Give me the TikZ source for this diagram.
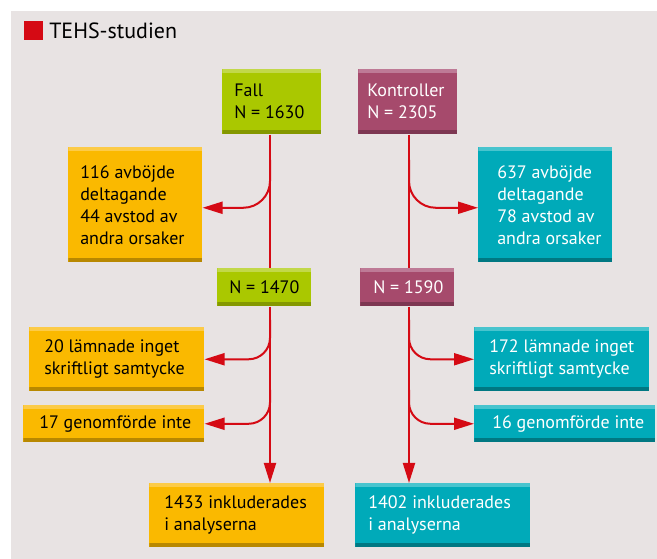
\documentclass[tikz,border=0pt]{standalone}
\usepackage{fontspec}
\setmainfont{PT Sans}
\usetikzlibrary{arrows.meta}

% couleurs
\definecolor{fond}{HTML}{E8E3E3}
\definecolor{rouge}{HTML}{D50A14}
\definecolor{vert}{HTML}{AAC800}
\definecolor{vertL}{HTML}{C2D84A}
\definecolor{vertD}{HTML}{849800}
\definecolor{mauve}{HTML}{A64A6C}
\definecolor{mauveL}{HTML}{BE7A96}
\definecolor{mauveD}{HTML}{7D3752}
\definecolor{orange}{HTML}{FAB900}
\definecolor{orangeL}{HTML}{FCCB48}
\definecolor{orangeD}{HTML}{B88800}
\definecolor{bleu}{HTML}{00AAB9}
\definecolor{bleuL}{HTML}{48C4CE}
\definecolor{bleuD}{HTML}{007882}

\newcommand\pxu{*0.75pt}

\tikzset{
  boite/.style n args={3}{rectangle, inner sep=0pt, anchor=north west, fill=#1,
    path picture={
      \fill[#2] (path picture bounding box.north west) rectangle ([yshift=-4\pxu]path picture bounding box.north east);
      \fill[#3] (path picture bounding box.south west) rectangle ([yshift=4\pxu]path picture bounding box.south east);
    }},
  vbox/.style={boite={vert}{vertL}{vertD}},
  mbox/.style={boite={mauve}{mauveL}{mauveD}},
  obox/.style={boite={orange}{orangeL}{orangeD}},
  bbox/.style={boite={bleu}{bleuL}{bleuD}},
  texte/.style={anchor=west, inner sep=0pt, align=left, font=\fontsize{13.5}{16.5}\selectfont},
  ligne/.style={draw=rouge, line width=1.5pt},
  fleche/.style={ligne, -{Triangle[length=15pt,width=9pt]}},
}

\begin{document}
\begin{tikzpicture}[x=0.75pt,y=-0.75pt]
		\useasboundingbox (0,0) rectangle (657,559);
		\fill[fond] (11,11) rectangle (657,559);

		% titre
		\fill[rouge] (24,21) rectangle (43,40);
		\node (titre) at (49,39) [anchor=base west, inner sep=0pt, font=\fontsize{16.5}{20}\selectfont] {TEHS-studien};

		% boites
		\node (fall) at (222,69) [vbox, minimum width=99\pxu, minimum height=65\pxu] {};
		\node (kontr) at (358,69) [mbox, minimum width=99\pxu, minimum height=65\pxu] {};
		\node (avb1) at (68,147) [obox, minimum width=134\pxu, minimum height=115\pxu] {};
		\node (avb2) at (478,147) [bbox, minimum width=134\pxu, minimum height=115\pxu] {};
		\node (n1470) at (217,268) [vbox, minimum width=94\pxu, minimum height=38\pxu] {};
		\node (n1590) at (360,268) [mbox, minimum width=94\pxu, minimum height=38\pxu] {};
		\node (lam1) at (29,327) [obox, minimum width=175\pxu, minimum height=64\pxu] {};
		\node (lam2) at (474,327) [bbox, minimum width=175\pxu, minimum height=64\pxu] {};
		\node (gen1) at (23,405) [obox, minimum width=181\pxu, minimum height=37\pxu] {};
		\node (gen2) at (474,405) [bbox, minimum width=181\pxu, minimum height=37\pxu] {};
		\node (inc1) at (149,483) [obox, minimum width=175\pxu, minimum height=64\pxu] {};
		\node (inc2) at (355,483) [bbox, minimum width=175\pxu, minimum height=64\pxu] {};

		% textes
		\node (fallt) at ([xshift=12\pxu]fall.west) [texte] {Fall\\N = 1630};
		\node (kontrt) at ([xshift=9\pxu]kontr.west) [texte, text=white] {Kontroller\\N = 2305};
		\node (avb1t) at ([xshift=12\pxu]avb1.west) [texte] {116 avböjde\\deltagande\\44 avstod av\\andra orsaker};
		\node (avb2t) at ([xshift=19\pxu]avb2.west) [texte, text=white] {637 avböjde\\deltagande\\78 avstod av\\andra orsaker};
		\node (n1470t) at ([xshift=12\pxu]n1470.west) [texte] {N = 1470};
		\node (n1590t) at ([xshift=13\pxu]n1590.west) [texte, text=white] {N = 1590};
		\node (lam1t) at ([xshift=15\pxu]lam1.west) [texte] {20 lämnade inget\\skriftligt samtycke};
		\node (lam2t) at ([xshift=15\pxu]lam2.west) [texte, text=white] {172 lämnade inget\\skriftligt samtycke};
		\node (gen1t) at ([xshift=16\pxu]gen1.west) [texte] {17 genomförde inte};
		\node (gen2t) at ([xshift=18\pxu]gen2.west) [texte, text=white] {16 genomförde inte};
		\node (inc1t) at ([xshift=15\pxu]inc1.west) [texte] {1433 inkluderades\\i analyserna};
		\node (inc2t) at ([xshift=13\pxu]inc2.west) [texte, text=white] {1402 inkluderades\\i analyserna};

		% fleches
		\coordinate (lx) at (270,0);
		\coordinate (rx) at (409,0);
		\path[ligne]
		(lx |- fall.south) -- (lx |- n1470.north)
		(rx |- kontr.south) -- (rx |- n1590.north);
		\draw[fleche, rounded corners=20pt] (lx |- 0,160) |- ([yshift=-3\pxu]avb1.east);
		\draw[fleche, rounded corners=20pt] (rx |- 0,160) |- ([yshift=-3\pxu]avb2.west);
		\draw[fleche] (lx |- n1470.south) -- (lx |- inc1.north);
		\draw[fleche] (rx |- n1590.south) -- (rx |- inc2.north);
		\draw[fleche, rounded corners=16pt] (lx |- 0,320) |- (lam1.east);
		\draw[fleche, rounded corners=16pt] (rx |- 0,320) |- (lam2.west);
		\draw[fleche, rounded corners=16pt] (lx |- 0,390) |- (gen1.east);
		\draw[fleche, rounded corners=16pt] (rx |- 0,390) |- (gen2.west);
	\end{tikzpicture}
\end{document}
